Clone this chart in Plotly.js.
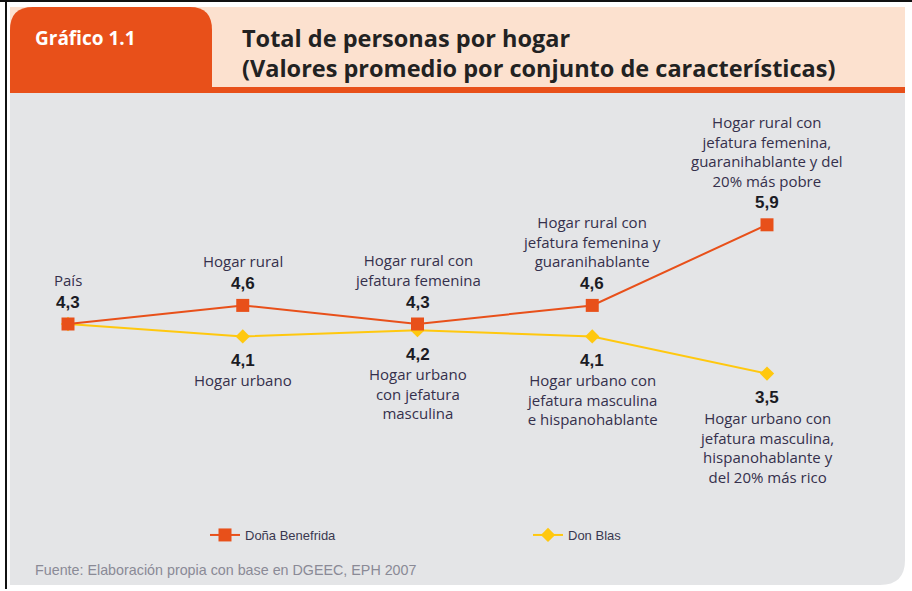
<!DOCTYPE html>
<html>
<head>
<meta charset="utf-8">
<script src="https://cdn.plot.ly/plotly-3.0.1.min.js"></script>
<style>
html,body{margin:0;padding:0;background:#fff;}
#chart{width:912px;height:591px;}
</style>
</head>
<body>
<div id="chart"></div>
<script>
// ---- Data ----
const steps = ['Nivel 0', 'Nivel 1', 'Nivel 2', 'Nivel 3', 'Nivel 4'];

const benefridaName = 'Doña Benefrida';
const benefridaValues = [4.3, 4.6, 4.3, 4.6, 5.9];
const benefridaLabels = [
  'País',
  'Hogar rural',
  'Hogar rural con<br>jefatura femenina',
  'Hogar rural con<br>jefatura femenina y<br>guaranihablante',
  'Hogar rural con<br>jefatura femenina,<br>guaranihablante y del<br>20% más pobre'
];

const blasName = 'Don Blas';
const blasValues = [4.3, 4.1, 4.2, 4.1, 3.5];
const blasLabels = [
  '',
  'Hogar urbano',
  'Hogar urbano<br>con jefatura<br>masculina',
  'Hogar urbano con<br>jefatura masculina<br>e hispanohablante',
  'Hogar urbano con<br>jefatura masculina,<br>hispanohablante y<br>del 20% más rico'
];

const chartLabel = 'Gráfico 1.1';
const titleLine1 = 'Total de personas por hogar';
const titleLine2 = '(Valores promedio por conjunto de características)';
const sourceText = 'Fuente: Elaboración propia con base en DGEEC, EPH 2007';

// ---- Styling / layout helpers ----
const W = 912, H = 591;
const ORANGE = '#e8501a';
const YELLOW = '#ffc80f';
const PEACH = '#fce1cf';
const GRAY = '#e4e5e7';
const LABEL_COLOR = '#35304c';
const VALUE_COLOR = '#1b1b24';
const FONT = 'Liberation Sans, Arial, sans-serif';
const LABEL_FONT = 'Open Sans, Liberation Sans, sans-serif';

const px = x => x / W;
const py = y => 1 - y / H;
function path(cmds) {
  return cmds.map(c => {
    const L = c[0];
    const nums = c.slice(1);
    const out = [];
    for (let i = 0; i < nums.length; i += 2) out.push(px(nums[i]).toFixed(5) + ',' + py(nums[i + 1]).toFixed(5));
    return L + ' ' + out.join(' ');
  }).join(' ') + ' Z';
}

const fmt = v => v.toFixed(1).replace('.', ',');

// axis ranges (pixel mapping of the reference)
const xPxPerUnit = (767 - 68) / 4;
const xRange = [-68 / xPxPerUnit, 4 + (W - 767) / xPxPerUnit];
const yPxPerUnit = 62;
const yTop = 4.3 + 324 / yPxPerUnit;
const yRange = [yTop - H / yPxPerUnit, yTop];

const traces = [
  {
    x: steps, y: blasValues, name: blasName, type: 'scatter', mode: 'lines+markers',
    line: {color: YELLOW, width: 2},
    marker: {symbol: 'diamond', size: 11, color: YELLOW},
    legendrank: 2, hoverinfo: 'skip'
  },
  {
    x: steps, y: benefridaValues, name: benefridaName, type: 'scatter', mode: 'lines+markers',
    line: {color: ORANGE, width: 2},
    marker: {symbol: 'square', size: 13, color: ORANGE},
    legendrank: 1, hoverinfo: 'skip'
  }
];

const annotations = [];
steps.forEach((s, i) => {
  annotations.push({
    x: s, y: benefridaValues[i], xref: 'x', yref: 'y', showarrow: false,
    text: '<b>' + fmt(benefridaValues[i]) + '</b>', yanchor: 'middle', yshift: 22,
    font: {family: FONT, size: 17, color: VALUE_COLOR}
  });
  annotations.push({
    x: s, y: benefridaValues[i], xref: 'x', yref: 'y', showarrow: false,
    text: benefridaLabels[i], yanchor: 'bottom', yshift: 32, align: 'center',
    font: {family: LABEL_FONT, size: 15, color: LABEL_COLOR}
  });
  if (blasLabels[i]) {
    annotations.push({
      x: s, y: blasValues[i], xref: 'x', yref: 'y', showarrow: false,
      text: '<b>' + fmt(blasValues[i]) + '</b>', yanchor: 'middle', yshift: -24,
      font: {family: FONT, size: 17, color: VALUE_COLOR}
    });
    annotations.push({
      x: s, y: blasValues[i], xref: 'x', yref: 'y', showarrow: false,
      text: blasLabels[i], yanchor: 'top', yshift: -32, align: 'center',
      font: {family: LABEL_FONT, size: 15, color: LABEL_COLOR}
    });
  }
});

annotations.push(
  {xref: 'paper', yref: 'paper', x: px(33), y: py(38), xanchor: 'left', yanchor: 'middle', showarrow: false,
   text: '<b>' + chartLabel + '</b>', font: {family: 'Open Sans, sans-serif', size: 19, color: '#ffffff'}},
  {xref: 'paper', yref: 'paper', x: px(240), y: py(38), xanchor: 'left', yanchor: 'middle', showarrow: false,
   text: '<b>' + titleLine1 + '</b>', font: {family: 'Open Sans, sans-serif', size: 23.5, color: '#222222'}},
  {xref: 'paper', yref: 'paper', x: px(240), y: py(68), xanchor: 'left', yanchor: 'middle', showarrow: false,
   text: '<b>' + titleLine2 + '</b>', font: {family: 'Open Sans, sans-serif', size: 23.5, color: '#222222'}},
  {xref: 'paper', yref: 'paper', x: px(33), y: py(570), xanchor: 'left', yanchor: 'middle', showarrow: false,
   text: sourceText, font: {family: FONT, size: 14.3, color: '#8a8a96'}}
);

const shapes = [
  {type: 'line', xref: 'paper', yref: 'paper', x0: 0, x1: 1, y0: py(1), y1: py(1), line: {color: '#111', width: 2}, layer: 'below'},
  {type: 'line', xref: 'paper', yref: 'paper', x0: px(6), x1: px(6), y0: py(0), y1: py(589), line: {color: '#111', width: 2}, layer: 'below'},
  {type: 'rect', xref: 'paper', yref: 'paper', x0: px(10), x1: px(905), y0: py(88), y1: py(7), fillcolor: PEACH, line: {width: 0}, layer: 'below'},
  {type: 'path', xref: 'paper', yref: 'paper', layer: 'below', fillcolor: ORANGE, line: {width: 0},
   path: path([['M', 10, 90], ['L', 10, 30], ['Q', 10, 7, 33, 7], ['L', 190, 7], ['Q', 212, 7, 212, 30], ['L', 212, 90]])},
  {type: 'rect', xref: 'paper', yref: 'paper', x0: px(10), x1: px(905), y0: py(93), y1: py(87), fillcolor: ORANGE, line: {width: 0}, layer: 'below'},
  {type: 'path', xref: 'paper', yref: 'paper', layer: 'below', fillcolor: GRAY, line: {width: 0},
   path: path([['M', 10, 93], ['L', 905, 93], ['L', 905, 560], ['Q', 905, 585, 880, 585], ['L', 10, 585]])}
];

const layout = {
  width: W, height: H,
  margin: {l: 0, r: 0, t: 0, b: 0, autoexpand: false},
  paper_bgcolor: '#ffffff',
  plot_bgcolor: 'rgba(0,0,0,0)',
  xaxis: {type: 'category', range: xRange, visible: false, fixedrange: true},
  yaxis: {range: yRange, visible: false, fixedrange: true},
  showlegend: true,
  legend: {
    orientation: 'h', x: px(205), xanchor: 'left', y: py(535), yanchor: 'middle',
    bgcolor: 'rgba(0,0,0,0)', font: {family: FONT, size: 13, color: '#3a3850'},
    entrywidth: 278, entrywidthmode: 'pixels', traceorder: 'normal'
  },
  annotations: annotations,
  shapes: shapes
};

Plotly.newPlot('chart', traces, layout, {displayModeBar: false, staticPlot: true});
</script>
</body>
</html>
